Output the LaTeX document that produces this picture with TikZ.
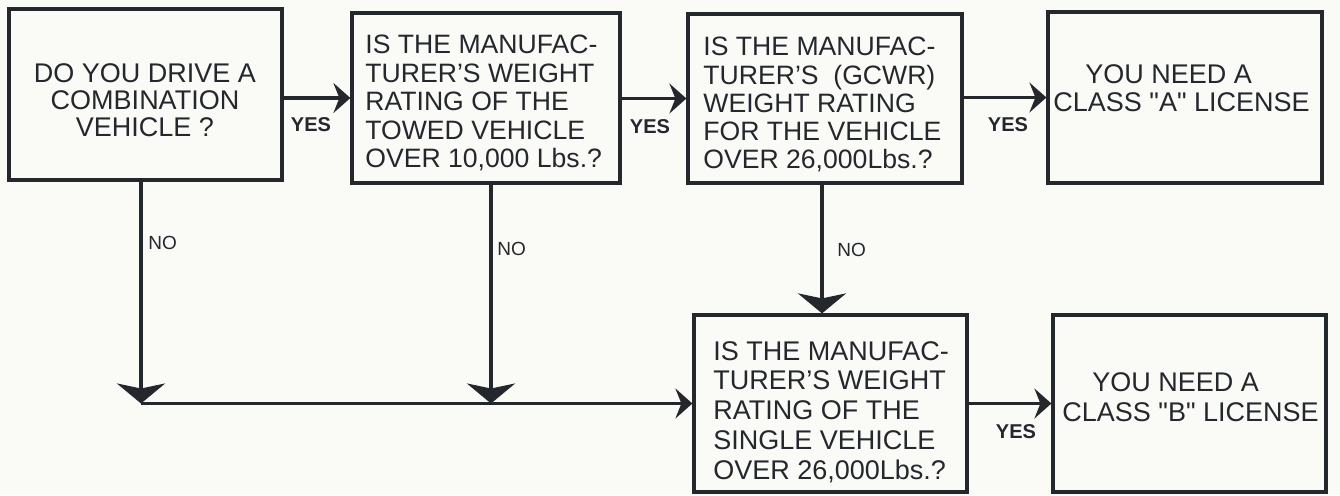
\documentclass[tikz,border=0pt]{standalone}
\usepackage{fontspec}
\setmainfont{Liberation Sans}
\newfontfamily\plainsans{Liberation Sans}[Ligatures=TeXOff]
\usetikzlibrary{arrows.meta}
\definecolor{ink}{HTML}{24272C}
\definecolor{paper}{HTML}{FAFAF7}
\begin{document}
\begin{tikzpicture}[x=0.5pt,y=-0.5pt,
  box/.style={draw=ink, line width=1.6pt, inner sep=0pt},
  txt/.style={text=ink, inner sep=0pt, align=left, font=\fontsize{13.3}{14.2}\selectfont},
  conn/.style={draw=ink, line width=1.8pt},
  yes/.style={text=ink, inner sep=0pt, font=\bfseries\fontsize{10}{12}\selectfont},
  no/.style={text=ink, inner sep=0pt, anchor=west, font=\fontsize{9.5}{11}\selectfont},
  bigtip/.tip={Stealth[length=10pt,width=24pt,inset=2.5pt]},
  smalltip/.tip={Stealth[length=8.5pt,width=15pt,inset=3pt]}
]
\fill[paper] (0,0) rectangle (1340,495);
\useasboundingbox (0,0) rectangle (1340,495);

% boxes
\node[box, minimum width=136.5pt, minimum height=85.5pt] (b1) at (145.5,94.5) {};
\node[box, minimum width=134pt, minimum height=85pt] (b2) at (486,98) {};
\node[box, minimum width=137pt, minimum height=84.5pt] (b3) at (825,98.5) {};
\node[box, minimum width=137pt, minimum height=85.5pt] (b4) at (1185,97.5) {};
\node[box, minimum width=136.5pt, minimum height=88.5pt] (b5) at (830.5,403.5) {};
\node[box, minimum width=136.5pt, minimum height=88.5pt] (b6) at (1189.5,403.5) {};

% texts
\node[txt, align=center, anchor=north, font=\fontsize{13.5}{13.6}\selectfont] (t1) at (145,63)
  {DO YOU DRIVE A\\COMBINATION\\VEHICLE ?};
\node[txt, anchor=north west] (t2) at (365,35)
  {IS THE MANUFAC-\\TURER'S WEIGHT\\RATING OF THE\\TOWED VEHICLE\\OVER 10,000 Lbs.?};
\node[txt, anchor=north west, font=\fontsize{13.3}{14.1}\selectfont] (t3) at (703,37)
  {IS THE MANUFAC-\\TURER'S\ \ (GCWR)\\WEIGHT RATING\\FOR THE VEHICLE\\OVER 26,000Lbs.?};
\node[txt, anchor=north west, font=\plainsans\fontsize{13.5}{14}\selectfont] (t4) at (1053,64)
  {\hspace*{16pt}YOU NEED A\\CLASS "A" LICENSE};
\node[txt, anchor=north west, font=\fontsize{13.5}{14.85}\selectfont] (t5) at (713,341)
  {IS THE MANUFAC-\\TURER'S WEIGHT\\RATING OF THE\\SINGLE VEHICLE\\OVER 26,000Lbs.?};
\node[txt, anchor=north west, font=\plainsans\fontsize{13.5}{15}\selectfont] (t6) at (1062,372)
  {\hspace*{15pt}YOU NEED A\\CLASS "B" LICENSE};

% helper columns for the NO lines
\coordinate (x1) at (141,0);
\coordinate (x2) at (491,0);
\coordinate (x3) at (822,0);

% YES connectors
\draw[conn, -{smalltip}] (b2.west -| b1.east) -- (b2.west);
\draw[conn, -{smalltip}] (b3.west -| b2.east) -- (b3.west);
\draw[conn, -{smalltip}] (b4.west -| b3.east) -- (b4.west);
\draw[conn, -{smalltip}] (b6.west -| b5.east) -- (b6.west);

% NO connectors
\draw[conn, -{bigtip}] (b1.south -| x1) -- (x1 |- b5.west);
\draw[conn, -{bigtip}] (b2.south -| x2) -- (x2 |- b5.west);
\draw[conn, -{bigtip}] (b3.south -| x3) -- (x3 |- b5.north);
\draw[conn, -{smalltip}] (x1 |- b5.west) -- (b5.west);

% labels
\node[yes] (y1) at (311,125) {YES};
\node[yes] (y2) at (650,127) {YES};
\node[yes] (y3) at (1008,125) {YES};
\node[yes] (y4) at (1016,432) {YES};
\node[no] (n1) at (148,243) {NO};
\node[no] (n2) at (497,249) {NO};
\node[no] (n3) at (837,250) {NO};
\end{tikzpicture}
\end{document}
